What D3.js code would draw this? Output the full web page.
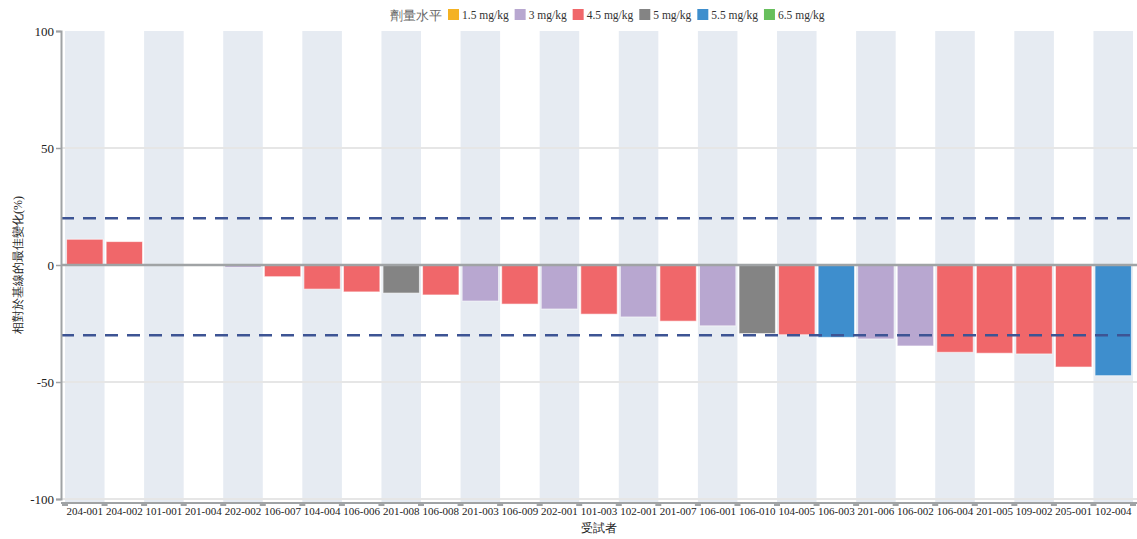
<!DOCTYPE html>
<html><head><meta charset="utf-8">
<script src="https://cdn.jsdelivr.net/npm/d3@7"></script>
<style>body{margin:0;background:#fff}svg{display:block}text{font-family:"Liberation Serif","Times New Roman",serif}</style>
</head><body><svg id="c" width="1137" height="539"></svg>
<script>
const subjects = ["204-001","204-002","101-001","201-004","202-002","106-007","104-004","106-006","201-008","106-008","201-003","106-009","202-001","101-003","102-001","201-007","106-001","106-010","104-005","106-003","201-006","106-002","106-004","201-005","109-002","205-001","102-004"];
const values = [11,10,0,0,-1,-5,-10.3,-11.5,-12,-12.8,-15.4,-16.7,-18.8,-21,-22.2,-24,-26,-29.3,-29.8,-30.9,-31.6,-34.6,-37.3,-37.7,-38,-43.6,-47.3];
const doses = ["4.5","4.5","4.5","4.5","3","4.5","4.5","4.5","5","4.5","3","4.5","3","4.5","3","4.5","3","5","4.5","5.5","3","3","4.5","4.5","4.5","4.5","5.5"];
const doseLevels = ["1.5","3","4.5","5","5.5","6.5"];
const doseColors = ["#f4b223","#b8a7d0","#f0676a","#848484","#3e8ecd","#67bf5c"];
const refLines = [20,-30];
const yTicks = [100,50,0,-50,-100];

const svg = d3.select("#c");
const x = d3.scaleBand().domain(subjects).range([65,1133]).paddingInner(0).paddingOuter(0);
const y = d3.scaleLinear().domain([-100,100]).range([499,31]);
const color = d3.scaleOrdinal().domain(doseLevels).range(doseColors);

// alternating bands
svg.append("g").selectAll("rect").data(subjects).join("rect")
  .attr("x", d=>x(d)).attr("width", x.bandwidth())
  .attr("y", 31).attr("height", 502-31)
  .attr("fill", (d,i)=> i%2===0 ? "#e6ebf2" : "none");

// grid
svg.append("g").selectAll("line").data([50,-50,-100]).join("line")
  .attr("x1",61).attr("x2",1137).attr("y1",d=>y(d)).attr("y2",d=>y(d))
  .attr("stroke","#e6e6e6").attr("stroke-width",2);

// bars
const bw = x.bandwidth()*0.92;
svg.append("g").selectAll("rect").data(subjects).join("rect")
  .attr("x", d=>x(d)+(x.bandwidth()-bw)/2).attr("width", bw)
  .attr("y", (d,i)=> y(Math.max(0,values[i])))
  .attr("height", (d,i)=> Math.abs(y(values[i])-y(0)))
  .attr("fill", (d,i)=>color(doses[i]))
  .attr("stroke","#ffffff").attr("stroke-opacity",0.6).attr("stroke-width",1);

// zero line
svg.append("line").attr("x1",61).attr("x2",1137).attr("y1",y(0)).attr("y2",y(0))
  .attr("stroke","#a0a3a5").attr("stroke-width",2.5);

// reference lines
svg.append("g").selectAll("line").data(refLines).join("line")
  .attr("x1",61).attr("x2",1137).attr("y1",d=>y(d)).attr("y2",d=>y(d))
  .attr("stroke","#3d5494").attr("stroke-width",2.5).attr("stroke-dasharray","13,9");

// y axis
const ya = svg.append("g").attr("transform","translate(61,0)")
  .call(d3.axisLeft(y).tickValues(yTicks).tickFormat(d=>String(d)).tickSize(5).tickPadding(2));
ya.select(".domain").attr("stroke","#a0a3a5").attr("stroke-width",2);
ya.selectAll(".tick line").attr("stroke","#a0a3a5").attr("stroke-width",1.5);
ya.selectAll("text").attr("font-size",13).attr("fill","#222").attr("font-family","Liberation Serif");

// x axis
const xa = svg.append("g").attr("transform","translate(0,503)")
  .call(d3.axisBottom(x).tickSize(0).tickPadding(4));
xa.select(".domain").attr("d","M61,0H1137").attr("stroke","#a0a3a5").attr("stroke-width",2);
xa.selectAll("text").attr("font-size",11).attr("fill","#222").attr("font-family","Liberation Serif");
svg.append("g").selectAll("line").data(subjects.concat(["__end"])).join("line")
  .attr("x1",(d,i)=>65+i*x.bandwidth()).attr("x2",(d,i)=>65+i*x.bandwidth())
  .attr("y1",503).attr("y2",506).attr("stroke","#a0a3a5").attr("stroke-width",6);

// axis titles
svg.append("text").attr("x",599).attr("y",532).attr("text-anchor","middle")
  .attr("font-size",12).attr("font-family","Noto Sans CJK TC").attr("fill","#222").text("受試者");
svg.append("text").attr("transform","translate(22,265) rotate(-90)").attr("text-anchor","middle")
  .attr("font-size",12).attr("font-family","Noto Sans CJK TC").attr("fill","#222").text("相對於基線的最佳變化(%)");

// legend
const lg = svg.append("g").attr("transform","translate(390,15)");
lg.append("text").attr("x",0).attr("y",5).attr("font-size",13).attr("fill","#666")
  .attr("font-family","Noto Sans CJK TC").text("劑量水平");
let lx = 58;
doseLevels.forEach((d,i)=>{
  const g = lg.append("g").attr("transform",`translate(${lx},0)`);
  g.append("rect").attr("x",0).attr("y",-6).attr("width",11).attr("height",11).attr("fill",doseColors[i]);
  const t = g.append("text").attr("x",14).attr("y",4).attr("font-size",11.5).attr("fill","#333").text(d+" mg/kg");
  lx += 14 + t.node().getComputedTextLength() + 6;
});
</script></body></html>
